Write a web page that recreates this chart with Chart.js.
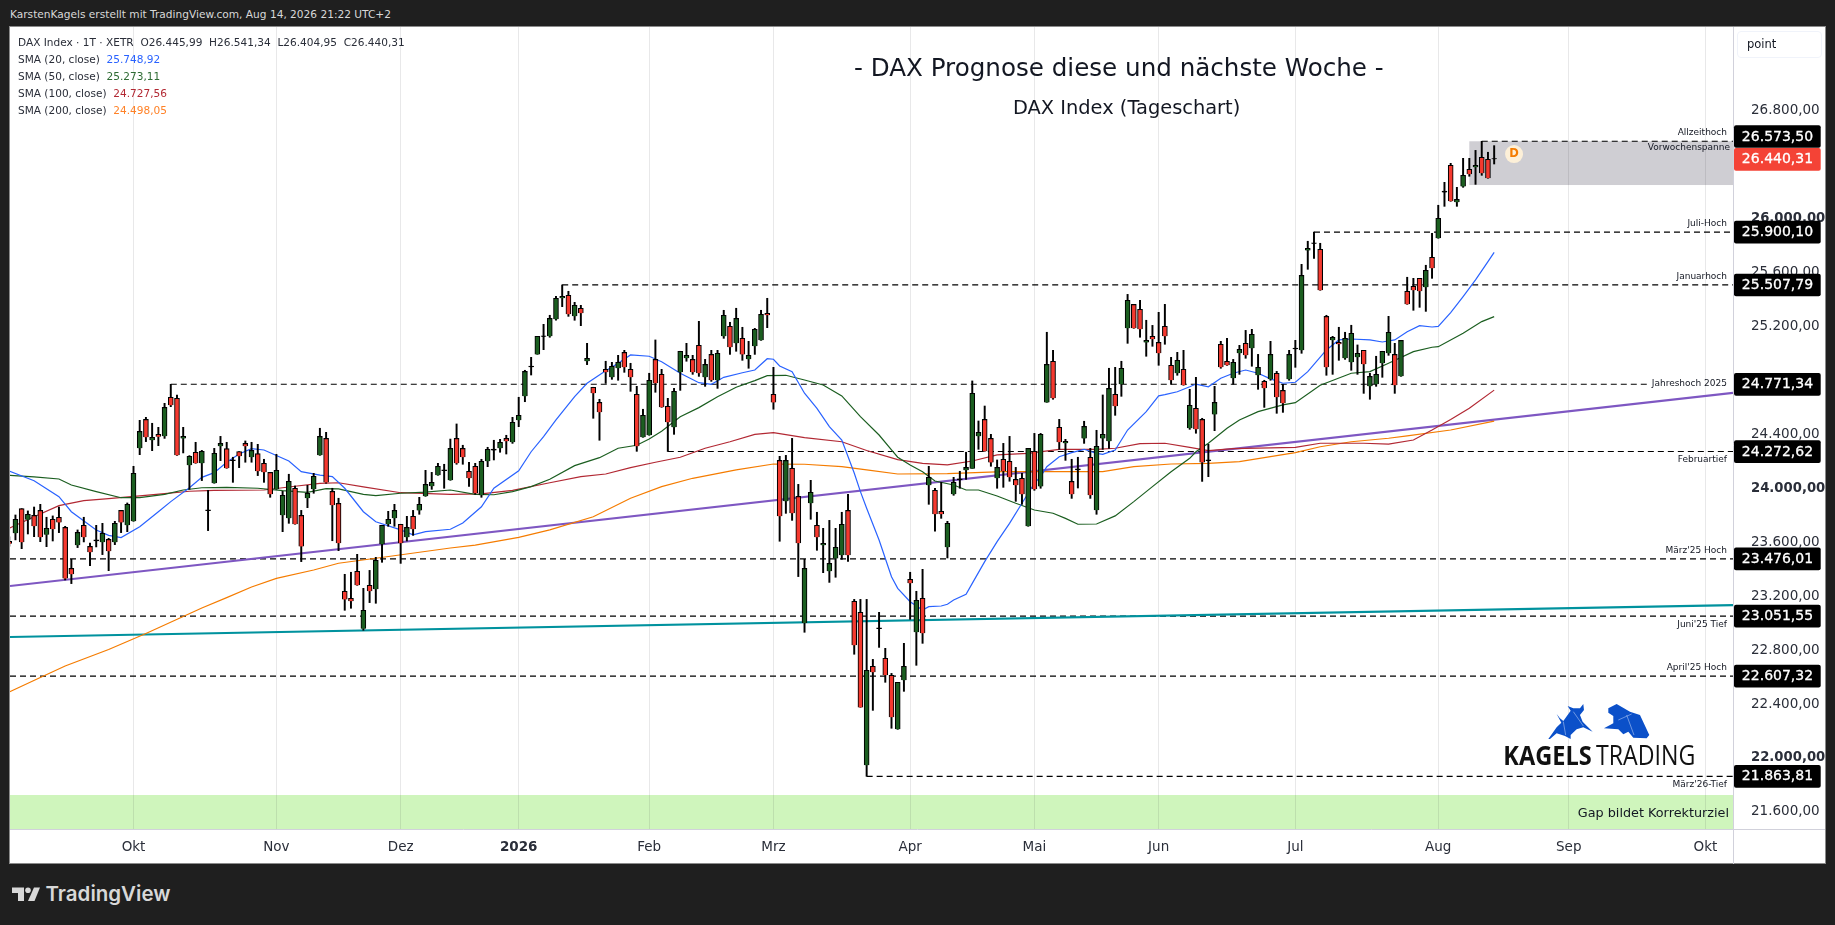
<!DOCTYPE html>
<html>
<head>
<meta charset="utf-8">
<title>DAX Prognose</title>
<script src="https://cdn.jsdelivr.net/npm/chart.js@4"></script>
<style>
html,body{margin:0;padding:0;background:#1f1f1f;width:1835px;height:925px;overflow:hidden}
body{font-family:"DejaVu Sans",sans-serif}
#frame{position:absolute;left:9px;top:26px;width:1815px;height:836px;border:1px solid #8a8a8a;background:#fff}
#chart{position:absolute;left:10px;top:27px}
.txt{position:absolute;white-space:pre;line-height:1}
#head{left:10px;top:9px;font-size:10.6px;color:#d8d8d8}
.leg{left:18px;font-size:10.55px;color:#2a2e39}
#title{left:854px;top:56px;font-size:24.6px;color:#131722}
#sub{left:1013px;top:98px;font-size:19.4px;color:#131722}
#unit{left:1737px;top:31px;width:83px;height:25px;border:1px solid #f0f3fa;border-radius:4px;font-size:11.5px;line-height:25px;color:#131722;text-indent:9px}
#tv{left:45.5px;top:883.5px;font-family:Inter,sans-serif;font-weight:600;font-size:20.5px;color:#d8d8d8}
svg{position:absolute;left:0;top:0}
</style>
</head>
<body>
<div id="frame"></div>
<canvas id="chart" width="1815" height="837"></canvas>

<div class="txt" id="head">KarstenKagels erstellt mit TradingView.com, Aug 14, 2026 21:22 UTC+2</div>
<div class="txt leg" style="top:37px">DAX Index · 1T · XETR  O26.445,99  H26.541,34  L26.404,95  C26.440,31</div>
<div class="txt leg" style="top:54px">SMA (20, close)  <span style="color:#2962ff">25.748,92</span></div>
<div class="txt leg" style="top:71px">SMA (50, close)  <span style="color:#2e6b33">25.273,11</span></div>
<div class="txt leg" style="top:88px">SMA (100, close)  <span style="color:#b22833">24.727,56</span></div>
<div class="txt leg" style="top:105px">SMA (200, close)  <span style="color:#ff8228">24.498,05</span></div>
<div class="txt" id="title">- DAX Prognose diese und nächste Woche -</div>
<div class="txt" id="sub">DAX Index (Tageschart)</div>
<div class="txt" id="unit">point</div>
<div class="txt" id="tv">TradingView</div>

<svg width="1835" height="925">
  <g fill="#d8d8d8">
    <path d="M12 887.5h12v13.5h-6v-8h-6z"/>
    <circle cx="28" cy="890.3" r="2.8"/>
    <path d="M34 887.5h6l-5.5 13.5h-6.5z"/>
  </g>
  <g transform="translate(1400,640) scale(0.3333)" fill="#0b50c9">
    <path d="M445 297L470 262L484 248L470 222L480 235L490 243L512 212L503 198L520 205L540 205L550 192L552 210L540 225L548 245L578 275L550 262L530 268L512 285L512 297L495 288L470 280L450 297Z"/>
    <path d="M625 205L650 192L690 215L720 225L748 285L740 295L700 293L685 275L670 283L655 268L612 265L640 250L640 228L625 218Z"/>
    <path d="M490 245L497 285M520 215L550 258M680 225L702 285M655 240L695 222" stroke="#9db9ee" stroke-width="2" fill="none"/>
    <text x="310" y="375" font-family="Open Sans" font-weight="700" font-size="80" fill="#111" textLength="265" lengthAdjust="spacingAndGlyphs">KAGELS</text>
    <text x="588" y="375" font-family="Open Sans" font-size="80" fill="#111" textLength="298" lengthAdjust="spacingAndGlyphs">TRADING</text>
  </g>
</svg>

<script>
// =====================
// DATA (one entry per trading day)
// =====================
const opens = [
23607,23666,23849,23767,23799,23836,23656,23770,23785,23710,
23406,23577,23725,23569,23618,23599,23621,23599,23836,23725,
23755,24296,24511,24356,24400,24385,24675,24667,24370,24170,
24267,24185,23840,24037,24311,24294,24211,24272,24333,24230,
24257,24185,24118,23992,23799,23777,24000,23799,23926,23992,
24244,24370,23977,23888,23236,23184,23384,22959,23280,23251,
23584,23733,23777,23733,23636,23792,23836,23940,24015,24096,
24137,24059,24370,24296,24126,24163,23948,24200,24290,24296,
24370,24341,24504,24682,24906,24993,25131,25127,25253,25409,
25431,25275,25335,24942,24749,24637,24882,24823,24890,25008,
24882,24697,24378,24393,24956,24845,24608,24452,24860,24964,
24956,25060,24823,24993,24801,25127,25201,25075,25112,24956,
25053,25097,25298,24697,24207,23903,24148,23940,23000,23888,
23725,23577,23384,23480,23503,23836,23162,23080,21945,22680,
22965,22739,22613,22212,22576,23325,22932,23184,24022,23985,
23829,23562,23955,24070,24133,24148,24385,24511,24370,24074,
24215,24200,24066,24074,23718,24274,24014,24637,24942,24452,
24333,24051,24145,24370,24230,23837,24370,24348,24697,24771,
25186,25364,25327,25082,25127,25082,25201,24912,24853,24882,
24445,24593,24511,24211,24548,25068,24942,24816,25001,25075,
25038,24838,24793,24808,24853,24726,24808,25039,25023,25765,
25821,25772,25275,25097,25083,24964,24934,24971,25023,24756,
24771,24927,25001,24993,24830,25461,25498,25557,25490,25713,
25854,26204,26395,26121,26239,26366,26380,26455,26440,26446]
const highs = [
23640,23802,23849,23832,23861,23881,23785,23795,23861,23718,
23473,23691,23785,23594,23725,23740,23629,23755,23836,23891,
24163,24504,24526,24482,24452,24630,24771,24692,24452,24242,
24341,24281,23985,24296,24385,24341,24230,24272,24351,24341,
24326,24215,24118,24252,23977,24104,24017,23836,24022,24111,
24445,24415,24000,23926,23362,23377,23510,23258,23391,23488,
23725,23829,23881,23733,23792,23836,23933,24133,24118,24185,
24178,24365,24477,24319,24192,24185,24215,24304,24356,24363,
24393,24526,24675,24875,24971,25127,25216,25283,25424,25508,
25461,25379,25357,25075,24749,24660,24942,24934,24986,25023,
24927,24756,24586,24853,25100,24882,24667,24741,25016,25075,
24986,25238,24956,25023,25023,25320,25231,25335,25194,25090,
25186,25320,25409,24897,24237,24244,24370,24029,23473,24059,
23822,23703,23762,23703,23822,23955,23176,23176,23176,22731,
23080,22813,22627,22561,22850,23377,23236,23399,24163,24000,
24044,23755,24081,24126,24267,24796,24499,24610,24400,24210,
24333,24385,24155,24111,24296,24407,24407,25157,25023,24511,
24363,24215,24230,24497,24296,24430,24692,24890,24897,24942,
25438,25364,25394,25246,25208,25305,25364,24971,25008,25023,
24734,24823,24519,24326,24756,25090,25112,24956,25060,25171,
25179,24993,24801,25090,24867,24771,25023,25097,25661,25832,
25900,25817,25283,25127,25194,25157,25209,25063,25023,24853,
24979,25016,25275,25075,25097,25565,25557,25557,25654,25891,
26099,26269,26410,26232,26447,26447,26506,26573,26492,26541]
const lows = [
23570,23617,23552,23661,23641,23604,23567,23609,23671,23320,
23293,23560,23602,23426,23565,23508,23389,23582,23671,23678,
23755,24249,24346,24279,24316,24370,24605,24244,24262,23992,
24185,24057,23686,24037,24205,24148,24044,24153,24193,24193,
24094,24044,23933,23992,23678,23740,23733,23456,23856,23963,
24244,24037,23611,23537,23095,23110,23280,22947,23152,23147,
23451,23718,23718,23443,23609,23651,23807,23940,23992,24096,
24000,24059,24178,24178,24014,23955,23933,24160,24210,24267,
24254,24333,24457,24642,24840,24993,25028,25120,25246,25347,
25275,25246,25206,24917,24519,24356,24778,24808,24801,24860,
24719,24274,24378,24393,24712,24600,24273,24400,24726,24942,
24845,24830,24756,24793,24741,25112,24993,25016,24949,24890,
24993,25097,25191,24586,23607,23814,23762,23345,22932,23770,
23540,23374,23302,23340,23473,23458,22769,22375,21864,22353,
22820,22561,22220,22212,22494,23028,22687,22850,23881,23681,
23777,23483,23948,24000,24066,24148,24289,24274,24163,24000,
24007,24052,23903,23881,23718,23985,24000,24637,24660,24289,
24207,23925,24002,24333,23925,23807,24289,24296,24541,24682,
25075,25186,25120,24979,25053,24912,25068,24771,24838,24764,
24437,24408,24051,24086,24427,24890,24912,24771,24845,24964,
24905,24734,24600,24801,24556,24563,24801,24897,25001,25624,
25705,25468,24838,24845,24949,24956,24875,24845,24704,24660,
24756,24823,24986,24704,24830,25364,25320,25342,25312,25557,
25854,26091,26128,26091,26232,26314,26254,26321,26299,26405]
const closes = [
23589,23770,23599,23807,23718,23636,23703,23696,23747,23330,
23362,23673,23636,23525,23610,23666,23532,23740,23747,23881,
24111,24422,24378,24378,24383,24600,24615,24244,24385,24237,
24185,24274,23832,24259,24333,24148,24203,24237,24311,24281,
24126,24118,23955,24133,23948,24052,23733,23569,23963,24089,
24385,24042,23874,23592,23176,23162,23280,23095,23236,23466,
23725,23770,23836,23592,23710,23696,23881,24029,24044,24163,
24129,24296,24185,24230,24074,23963,24200,24289,24282,24341,
24348,24489,24541,24867,24898,25127,25123,25260,25409,25424,
25290,25357,25298,24964,24704,24563,24860,24905,24934,24897,
24823,24311,24541,24801,24778,24600,24489,24719,25016,24986,
24860,24853,24919,24801,25001,25283,25045,25260,24993,24986,
25179,25290,25283,24637,23792,24207,23814,23592,23406,23970,
23636,23592,23443,23562,23733,23503,22835,22375,22650,22635,
22957,22613,22301,22561,22680,23295,23169,22924,24081,23807,
23807,23740,24044,24062,24155,24704,24415,24274,24192,24155,
24126,24081,24022,23955,24296,23992,24400,24919,24667,24341,
24348,23955,24137,24459,23948,24311,24400,24741,24608,24890,
25394,25186,25179,25097,25105,25001,25127,24801,24949,24764,
24615,24437,24192,24203,24637,24897,24912,24934,25031,24986,
25142,24897,24741,24993,24675,24630,24993,25031,25579,25780,
25813,25468,24897,25120,25068,25112,25149,25001,24919,24830,
24845,25016,25157,24764,25097,25364,25468,25461,25617,25631,
26002,26196,26128,26143,26321,26329,26395,26336,26299,26440]

// moving averages, read at the marked bars only
const sma20Bars = [0,4,8,10,14,16,18,21,24,26,29,31,33,35,37,39,41,45,47,50,52,54,57,59,63,65,67,71,73,76,78,82,84,86,88,91,93,96,98,100,103,105,108,111,113,115,118,120,122,123,124,126,128,130,132,134,136,137,138,140,142,143,145,147,148,150,151,152,154,155,157,159,161,163,165,166,167,169,171,173,175,176,178,180,183,185,186,188,190,191,193,195,197,199,201,203,205,207,209,212,214,216,219,221,223,225,227,229,230,232,234,236,238,239]
const sma20Vals = [24128,24056,23938,23826,23691,23651,23634,23715,23826,23901,24004,24081,24116,24193,24254,24294,24284,24202,24123,24098,24086,24000,23826,23752,23691,23654,23678,23696,23743,23863,24000,24130,24271,24383,24507,24679,24779,24872,24927,24989,24979,24939,24853,24783,24771,24823,24857,24877,24961,24957,24907,24865,24705,24593,24457,24358,24113,23975,23852,23616,23344,23258,23159,23097,23122,23127,23140,23171,23214,23295,23456,23604,23740,23889,24037,24086,24160,24234,24264,24289,24259,24252,24284,24432,24568,24685,24694,24716,24753,24773,24753,24816,24853,24877,24853,24811,24779,24786,24865,25026,25100,25107,25100,25085,25100,25161,25206,25196,25201,25302,25421,25545,25681,25749]
const sma50Bars = [0,4,8,10,14,18,21,25,28,31,35,40,44,48,51,53,57,59,63,67,71,75,78,81,84,87,91,95,98,101,103,105,108,111,114,117,120,122,125,128,131,134,137,140,142,143,145,147,149,152,154,156,159,162,165,168,170,172,175,178,181,184,187,190,191,193,196,198,201,205,207,211,216,219,222,226,229,230,234,237,239]
const sma50Vals = [24096,24084,24069,24024,23975,23930,23930,23955,23987,24004,24007,24000,23982,23970,23997,23995,23955,23945,23963,23972,23987,23955,23952,23975,24012,24067,24168,24227,24297,24319,24366,24423,24531,24598,24679,24749,24798,24835,24838,24803,24766,24685,24531,24395,24284,24230,24173,24123,24054,24024,23987,23987,23943,23889,23839,23815,23777,23733,23735,23795,23901,24012,24123,24222,24271,24334,24445,24507,24568,24618,24635,24764,24853,24865,24927,25013,25046,25050,25150,25236,25273]
const sma100Bars = [0,4,8,12,16,21,25,29,33,41,46,50,53,57,63,71,76,81,87,92,96,100,104,108,112,116,120,123,128,134,138,143,147,151,155,159,164,169,175,178,182,186,190,193,197,207,211,218,222,226,229,232,235,239]
const sma100Vals = [23703,23789,23871,23908,23923,23943,23960,23978,23985,23987,24015,24037,24041,24010,23967,23955,23958,23985,24041,24086,24106,24153,24193,24230,24297,24345,24400,24412,24375,24345,24280,24213,24185,24173,24202,24247,24259,24289,24289,24297,24331,24334,24303,24279,24294,24304,24334,24334,24328,24358,24432,24510,24593,24728]
const sma200Bars = [0,5,9,16,22,31,35,39,43,49,53,59,71,75,82,87,94,100,105,110,117,123,128,134,138,143,151,160,170,176,181,187,193,198,207,211,216,222,225,232,239]
const sma200Vals = [22489,22597,22682,22804,22923,23112,23189,23268,23332,23394,23444,23481,23557,23579,23636,23691,23789,23926,24012,24074,24136,24180,24178,24160,24136,24106,24108,24123,24123,24123,24160,24180,24185,24197,24264,24308,24345,24371,24388,24432,24498]

// horizontal levels: price, first bar (null = from the left edge), last bar (null = to the right edge)
const levelPrices = [26573.50,25900.10,25507.79,24771.34,24272.62,23476.01,23051.55,22607.32,21863.81]
const levelStarts = [237,210,89,26,106,null,null,null,138]
const levelEnds = [null,null,null,263.8,null,null,null,null,null]
const levelNames = ["Allzeithoch","Juli-Hoch","Januarhoch","Jahreshoch 2025","Februartief","März'25 Hoch","Juni'25 Tief","April'25 Hoch","März'26-Tief"]
const levelNameShift = [-8.6,-8,-8,-1,8,-8.7,8.7,-8.5,8.7]
const lastPrice = 26440.31

const purpleEnds = [23275,24707]
const tealEnds = [22897,23134]
const weekRange = [26249,26573.5]
const weekRangeStart = 235
const gapTop = 21725

const monthBars = [20,43,63,82,103,123,145,165,185,207,230,251,273]
const monthNames = ["Okt","Nov","Dez","2026","Feb","Mrz","Apr","Mai","Jun","Jul","Aug","Sep","Okt"]
const priceTicks = [26800,26400,26000,25600,25200,24800,24400,24000,23600,23200,22800,22400,22000,21600]

const xMin = 0.123, xMax = 277.44
const yMin = 21473, yMax = 27421

// =====================
// HELPERS
// =====================
const FONT = '"DejaVu Sans", sans-serif'
const RED = "#f5392f", GREEN = "#1b5e20"

function bars(idx){ return opens.map((o,i)=>idx(o,i)) }

function pairs(xs, ys){ return xs.map((x,k)=>({x:x, y:ys[k]})) }

function fmt(v){
  return v.toLocaleString("de-DE",{minimumFractionDigits:2,maximumFractionDigits:2})
}

function lineSet(data, color, width, order, dash){
  return {type:"line", data:data, borderColor:color, borderWidth:width, borderDash:dash||[],
    pointRadius:0, tension:0, order:order}
}

// tick labels must not push the plot area in
function noPad(s){
  s.paddingTop = 0; s.paddingBottom = 0; s.paddingLeft = 0; s.paddingRight = 0
}

// =====================
// DRAWINGS ON TOP OF THE SCALES
// =====================
const drawings = {
  id:"drawings",
  beforeDraw(chart){
    const c = chart.ctx, x = chart.scales.x, y = chart.scales.y, a = chart.chartArea
    c.save()
    c.fillStyle = "#cfced3"
    let top = y.getPixelForValue(weekRange[1]), bot = y.getPixelForValue(weekRange[0])
    let left = x.getPixelForValue(weekRangeStart)
    c.fillRect(left, top, a.right-left, bot-top)
    c.fillStyle = "#cff5bc"
    let g = y.getPixelForValue(gapTop)
    c.fillRect(a.left, g, a.right-a.left, a.bottom-g)
    c.restore()
  },
  afterDraw(chart){
    const c = chart.ctx, x = chart.scales.x, y = chart.scales.y, a = chart.chartArea
    c.save()
    // axis frame
    c.strokeStyle = "#d1d1db"
    c.lineWidth = 1
    c.beginPath()
    c.moveTo(a.right+.5, 0); c.lineTo(a.right+.5, chart.height)
    c.moveTo(0, a.bottom+.5); c.lineTo(chart.width, a.bottom+.5)
    c.stroke()

    // level names
    c.font = "9px "+FONT
    c.fillStyle = "#131722"
    c.textAlign = "right"
    c.textBaseline = "middle"
    levelNames.forEach((n,i)=>{
      c.fillText(n, a.right-6, y.getPixelForValue(levelPrices[i])+levelNameShift[i])
    })
    c.fillText("Vorwochenspanne", a.right-3, y.getPixelForValue(levelPrices[0])+6.7)

    c.font = "12.8px "+FONT
    c.fillText("Gap bildet Korrekturziel", a.right-4, 787)

    // price boxes
    c.font = "14px "+FONT
    c.textAlign = "center"
    levelPrices.concat([lastPrice]).forEach((p,i)=>{
      let py = y.getPixelForValue(p)
      if(i==0) py -= 4.8
      c.fillStyle = p==lastPrice ? "#f44336" : "#000"
      c.beginPath()
      c.roundRect(a.right+1, py-11.3, 86.7, 22.7, 2)
      c.fill()
      c.fillStyle = "#fff"
      c.strokeStyle = "#fff"
      c.lineWidth = .3
      c.fillText(fmt(p), a.right+44.5, py+.5)
      c.strokeText(fmt(p), a.right+44.5, py+.5)
    })

    // dividend badge
    let bx = x.getPixelForValue(242.2), by = y.getPixelForValue(26479)
    c.fillStyle = "#fdf0d8"
    c.beginPath()
    c.arc(bx, by, 9, 0, Math.PI*2)
    c.fill()
    c.fillStyle = "#f57c00"
    c.font = "bold 11.5px "+FONT
    c.fillText("D", bx, by+.5)
    c.restore()
  }
}

// =====================
// CHART
// =====================
const levelSets = levelPrices.map((p,i)=>lineSet(
  [{x:levelStarts[i]===null?xMin:levelStarts[i], y:p},{x:levelEnds[i]===null?xMax:levelEnds[i], y:p}],
  "#000", 1.2, 6, [6,4]))

new Chart(document.getElementById("chart"),{
  type:"bar",
  data:{
    datasets:[
      // candle bodies
      {data:bars((o,i)=>({x:i, y:[o,closes[i]]})), grouped:false, barThickness:5, borderWidth:1.1, borderColor:"#000",
       backgroundColor:opens.map((o,i)=>Math.abs(o-closes[i])<=10 ? "#000" : (closes[i]>o ? GREEN : RED)), order:1},
      // wicks
      {data:bars((o,i)=>({x:i, y:[lows[i],highs[i]]})), grouped:false, barThickness:1.3, backgroundColor:"#000", order:2},
      lineSet(pairs(sma20Bars,sma20Vals),"#2962ff",1.2,3),
      lineSet(pairs(sma50Bars,sma50Vals),"#1b5e20",1.2,3),
      lineSet(pairs(sma100Bars,sma100Vals),"#b22833",1.2,3),
      lineSet(pairs(sma200Bars,sma200Vals),"#f57c00",1.2,3),
      lineSet([{x:xMin,y:purpleEnds[0]},{x:xMax,y:purpleEnds[1]}],"#7e57c2",2.2,4),
      lineSet([{x:xMin,y:tealEnds[0]},{x:xMax,y:tealEnds[1]}],"#00929e",2.2,4)
    ].concat(levelSets)
  },
  options:{
    responsive:false,
    animation:false,
    devicePixelRatio:1,
    layout:{padding:0, autoPadding:false},
    plugins:{legend:{display:false}, tooltip:{enabled:false}},
    scales:{
      x:{
        type:"linear", min:xMin, max:xMax, offset:false,
        grid:{offset:false, color:"rgba(42,46,57,0.11)", drawTicks:false},
        border:{display:false},
        afterBuildTicks(s){ s.ticks = monthBars.map(v=>({value:v})) },
        afterFit(s){ s.height = 35; noPad(s) },
        ticks:{
          autoSkip:false, maxRotation:0, padding:10, color:"#2a2e39",
          font:ctx=>({family:FONT, size:13.5, weight:ctx.tick && ctx.tick.value==82 ? "bold" : "normal"}),
          callback(v){ return monthNames[monthBars.indexOf(v)] }
        }
      },
      y:{
        position:"right", min:yMin, max:yMax,
        grid:{display:false},
        border:{display:false},
        afterBuildTicks(s){ s.ticks = priceTicks.map(v=>({value:v})) },
        afterFit(s){ s.width = 92; noPad(s) },
        ticks:{
          padding:10, color:"#2a2e39",
          font:ctx=>({family:FONT, size:ctx.tick && ctx.tick.value%2000==0 ? 13.2 : 13.5, weight:ctx.tick && ctx.tick.value%2000==0 ? "bold" : "normal"}),
          callback(v){ return fmt(v) }
        }
      }
    }
  },
  plugins:[drawings]
})
</script>
</body>
</html>
